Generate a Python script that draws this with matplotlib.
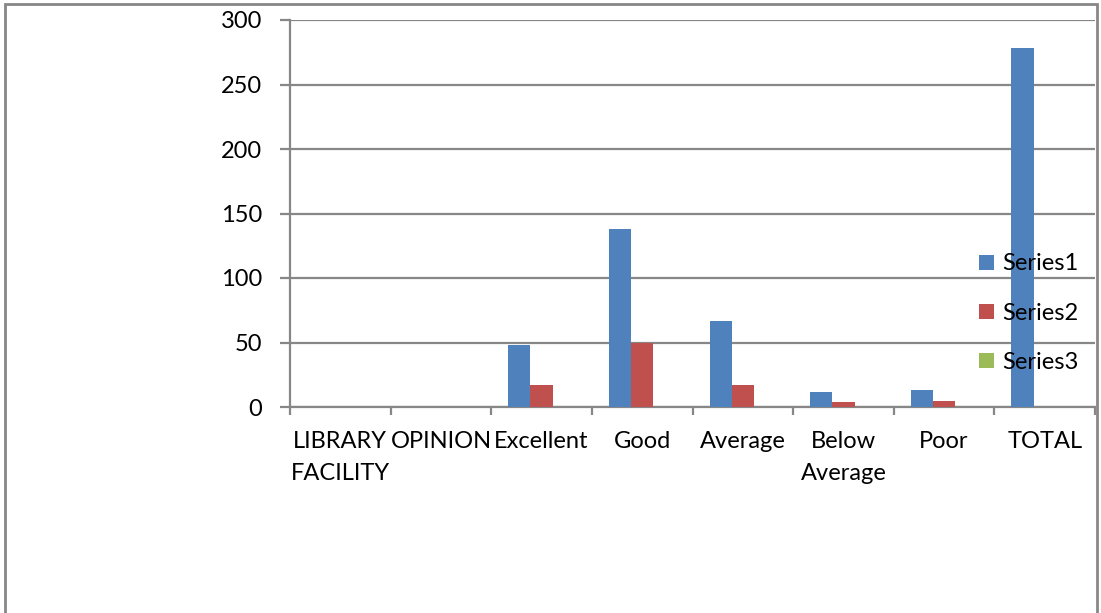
import matplotlib
matplotlib.use("Agg")
import matplotlib.pyplot as plt
import numpy as np
from matplotlib.patches import Rectangle

categories = ["LIBRARY\nFACILITY", "OPINION", "Excellent", "Good", "Average", "Below\nAverage", "Poor", "TOTAL"]
series1 = [0, 0, 48, 138, 67, 12, 13, 278]
series2 = [0, 0, 17, 50, 17, 4, 5, 0]
series3 = [0, 0, 0, 0, 0, 0, 0, 0]
series_names = ["Series1", "Series2", "Series3"]
colors = ["#4F81BD", "#C0504D", "#9BBB59"]
yticks = [0, 50, 100, 150, 200, 250, 300]

plt.rcParams['font.family'] = ['Lato', 'DejaVu Sans']

W, H = 1101, 613
FS = 17
fig = plt.figure(figsize=(W / 100, H / 100), dpi=100)
ax = fig.add_axes([290 / W, 1 - 407 / H, (1095 - 290) / W, (407 - 20) / H])

grid_c = "#878787"
x = np.arange(len(categories))
bw = 0.22
for k, (vals, name, c) in enumerate(zip([series1, series2, series3], series_names, colors)):
    ax.bar(x + (k - 1) * bw, vals, width=bw, color=c, label=name, zorder=3,
           edgecolor="none")

ax.set_xlim(-0.5, len(categories) - 0.5)
ax.set_ylim(0, 300)
ax.set_yticks(yticks)
ax.set_yticklabels([str(v) for v in yticks], fontsize=FS)
ax.yaxis.grid(True, color=grid_c, linewidth=1.6, zorder=0)
ax.set_axisbelow(True)

ax.set_xticks(x)
ax.set_xticklabels(categories, fontsize=FS, linespacing=1.65)
ax.set_xticks(np.arange(-0.5, len(categories), 1.0), minor=True)
ax.tick_params(axis='x', which='major', length=0, pad=17)
ax.tick_params(axis='x', which='minor', length=6, width=1.6, color=grid_c)
ax.tick_params(axis='y', which='major', length=7, width=1.6, color=grid_c, pad=13)

for s in ["top", "right"]:
    ax.spines[s].set_visible(False)
for s in ["left", "bottom"]:
    ax.spines[s].set_color(grid_c)
    ax.spines[s].set_linewidth(1.6)

leg = fig.legend(loc="upper left", bbox_to_anchor=(970 / W, 1 - 244 / H), frameon=False,
                 fontsize=FS, handlelength=0.6, handleheight=0.6, handletextpad=0.35,
                 labelspacing=1.2, borderaxespad=0)

fig.patches.append(Rectangle((5 / W, -0.05), (1097 - 5) / W, 1.05 - 4 / H,
                             transform=fig.transFigure, fill=False,
                             edgecolor=grid_c, linewidth=2))

fig.savefig("out.png", dpi=100)
